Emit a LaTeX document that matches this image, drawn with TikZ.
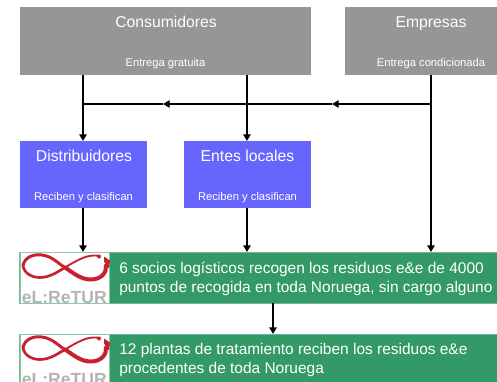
\documentclass[tikz,border=0pt]{standalone}
\usepackage{fontspec}
\setmainfont{Liberation Sans}
\usetikzlibrary{arrows.meta}
\definecolor{grayb}{HTML}{969696}
\definecolor{blueb}{HTML}{6666FF}
\definecolor{greenb}{HTML}{339966}
\definecolor{logored}{HTML}{C8202F}
\definecolor{logogray}{HTML}{B4B4B4}
\tikzset{
  box/.style={draw=none,inner sep=0pt,outer sep=0pt,anchor=north west},
  title/.style={text=white,font=\fontsize{11.8}{12}\selectfont,inner sep=0pt,anchor=base},
  sub/.style={text=white,font=\fontsize{8.4}{9}\selectfont,inner sep=0pt,anchor=base},
  body/.style={text=white,font=\fontsize{11.6}{14.25}\selectfont,align=left,anchor=west,inner sep=0pt},
  wire/.style={line width=1.25pt},
  arrow/.style={wire,-{Triangle[length=5pt,width=5.5pt]}},
  ribbon/.style={draw=logored,fill=none,line cap=round},
  logotext/.style={text=logogray,font=\fontsize{13.2}{14}\bfseries\selectfont,inner sep=0pt,anchor=base west}
}
\newcommand{\logomark}[3]{%
  \begin{scope}[shift={(#1,#2)}]
    \node[box,fill=white,draw=greenb!55,line width=.6pt,minimum width=66.75pt,minimum height=#3] (logo#2) at (0,0) {};
    \draw[ribbon,line width=2.2pt] (3,13) .. controls (5,4) and (14,1.5) .. (22,2.5) .. controls (33,4) and (38,11) .. (45,15);
    \draw[ribbon,line width=3pt] (45,15) .. controls (53,20) and (60,27) .. (71,27) .. controls (81,27) and (87,20) .. (86,13);
    \draw[ribbon,line width=2pt] (3,13) .. controls (4,21) and (12,25) .. (20,25) .. controls (30,25) and (38,19) .. (45,15);
    \draw[ribbon,line width=1.4pt] (45,15) .. controls (55,9) and (65,3) .. (74,3) .. controls (77,3) and (79,3) .. (80,4);
    \fill[logored] (79,4) circle (2) (84,4) -- (90,8) -- (89,16) -- (84,9) -- cycle;
    \node[logotext] (logotxt#2) at (1.5,50.5) {eL:ReTUR};
  \end{scope}}
\begin{document}
\begin{tikzpicture}[x=0.75pt,y=-0.75pt]
\useasboundingbox (0,0) rectangle (497,382);
\node[box,fill=grayb,minimum width=218.25pt,minimum height=51pt] (cons) at (20,7) {};
\node[box,fill=grayb,minimum width=114pt,minimum height=51pt] (emp) at (345,7) {};
\node[box,fill=blueb,minimum width=95.25pt,minimum height=50.25pt] (dist) at (20,141) {};
\node[box,fill=blueb,minimum width=95.25pt,minimum height=50.25pt] (ent) at (184,141) {};
\node[box,fill=greenb,draw=greenb!70,line width=.4pt,minimum width=358.5pt,minimum height=38.25pt] (g1) at (19.5,252) {};
\node[box,fill=greenb,draw=greenb!70,line width=.4pt,minimum width=358.5pt,minimum height=37pt] (g2) at (19.5,334) {};

\node[title] (t1) at (166,27) {Consumidores};
\node[sub] (s1) at (165.5,66) {Entrega gratuita};
\node[title] (t2) at (431,27) {Empresas};
\node[sub] (s2) at (431,66) {Entrega condicionada};
\node[title] (t3) at (84,161) {Distribuidores};
\node[sub] (s3) at (83.5,200) {Reciben y clasifican};
\node[title] (t4) at (247.5,161) {Entes locales};
\node[sub] (s4) at (247.5,200) {Reciben y clasifican};
\node[body] (b1) at (119,278.5) {6 socios logísticos recogen los residuos e\&e de 4000\\puntos de recogida en toda Noruega, sin cargo alguno};
\node[body] (b2) at (119,359.5) {12 plantas de tratamiento reciben los residuos e\&e\\procedentes de toda Noruega};

\logomark{20}{252.5}{38pt}
\logomark{20}{334.5}{36pt}

\coordinate (xa) at (83,104);
\coordinate (xb) at (247,104);
\coordinate (xe) at (431,104);
\coordinate (xg) at (273,104);
\coordinate (m1) at (163,104);
\coordinate (m2) at (332,104);
\draw[arrow] (cons.south -| xa) -- (dist.north -| xa);
\draw[arrow] (cons.south -| xb) -- (ent.north -| xb);
\draw[arrow] (dist.south -| xa) -- (g1.north -| xa);
\draw[arrow] (ent.south -| xb) -- (g1.north -| xb);
\draw[arrow] (emp.south -| xe) -- (g1.north -| xe);
\draw[arrow] (xe) -- (m2);
\draw[arrow] (m2) -- (m1);
\draw[wire] (m1) -- (xa);
\draw[arrow] (g1.south -| xg) -- (g2.north -| xg);
\end{tikzpicture}
\end{document}
